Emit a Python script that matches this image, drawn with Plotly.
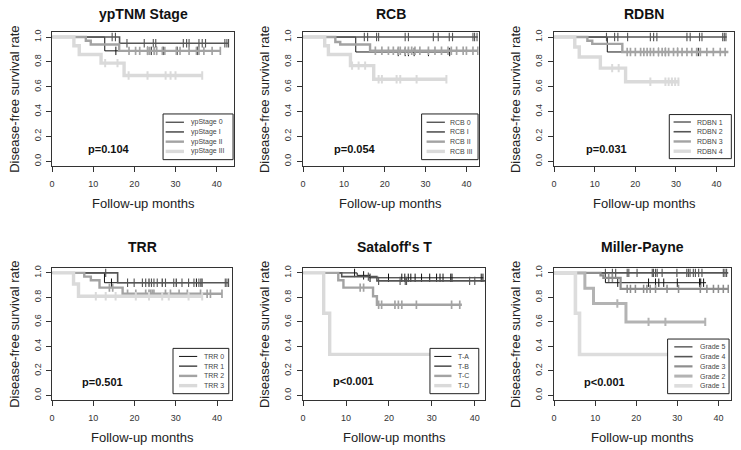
import plotly.graph_objects as go

W, H = 741, 450

# ------------------------------------------------------------------ data
# Panel 1: ypTNM Stage
yp_names = ["ypStage 0", "ypStage I", "ypStage II", "ypStage III"]
yp0_t, yp0_s, yp0_end = [12.8], [0.889], 35.3
yp0_c = [15.5, 23.2, 24.1, 25.4, 27.0, 30.4, 35.3]
yp1_t, yp1_s, yp1_end = [16.4], [0.95], 42.9
yp1_c = [14.6, 15.4, 18.2, 22.4, 24.6, 25.2, 31.9, 32.7, 33.3, 35.7, 36.5, 37.3, 42.0, 42.5, 42.9]
yp2_t, yp2_s, yp2_end = [8.2, 9.4, 16.3], [0.97, 0.94, 0.889], 40.9
yp2_c = [18.7, 20.3, 21.3, 23.2, 23.6, 24.8, 25.4, 26.8, 27.4, 30.2, 31.1, 33.3, 35.1, 35.7, 36.9, 38.9, 40.9]
yp3_t, yp3_s, yp3_end = [5.3, 6.6, 11.9, 17.5], [0.93, 0.86, 0.79, 0.69], 36.5
yp3_c = [12.9, 15.9, 18.6, 23.2, 27.6, 28.8, 30.0, 36.5]

# Panel 2: RCB
rcb_names = ["RCB 0", "RCB I", "RCB II", "RCB III"]
rcb0_t, rcb0_s, rcb0_end = [12.9], [0.88], 35.9
rcb0_c = [23.3, 25.0, 25.8, 27.2, 30.7, 35.9]
rcb1_t, rcb1_s, rcb1_end = [], [], 42.8
rcb1_c = [15.0, 15.8, 18.0, 18.5, 25.0, 25.8, 31.9, 33.1, 35.8, 36.6, 41.6, 42.0, 42.6]
rcb2_t, rcb2_s, rcb2_end = [7.9, 9.1, 16.4], [0.96, 0.94, 0.89], 42.8
rcb2_c = [17.7, 19.3, 20.9, 22.1, 23.3, 23.8, 25.0, 25.8, 26.6, 27.4, 28.6, 30.7, 32.3,
          33.9, 35.5, 36.3, 37.6, 39.2, 40.0, 41.6, 42.8]
rcb3_t, rcb3_s, rcb3_end = [5.3, 6.2, 11.6, 17.3], [0.93, 0.86, 0.77, 0.66], 35.1
rcb3_c = [12.0, 13.6, 15.2, 18.5, 19.3, 22.9, 23.8, 27.8, 35.1]

# Panel 3: RDBN
rd_names = ["RDBN 1", "RDBN 2", "RDBN 3", "RDBN 4"]
rd1_t, rd1_s, rd1_end = [13.1], [0.88], 35.5
rd1_c = [25.7, 27.4, 30.4, 35.5]
rd2_t, rd2_s, rd2_end = [], [], 42.5
rd2_c = [12.9, 14.9, 15.7, 18.1, 23.7, 24.5, 25.3, 32.7, 33.5, 35.8, 36.4, 41.5, 41.9, 42.3]
rd3_t, rd3_s, rd3_end = [8.2, 9.4, 16.8], [0.97, 0.945, 0.88], 42.9
rd3_c = [18.0, 18.8, 20.0, 21.3, 22.1, 22.9, 23.7, 24.5, 25.7, 26.6, 27.4, 28.2, 29.4,
         30.4, 31.5, 32.7, 33.9, 35.1, 36.0, 37.6, 39.2, 40.9, 42.1]
rd4_t, rd4_s, rd4_end = [5.1, 6.2, 11.4, 17.6], [0.92, 0.84, 0.75, 0.64], 30.8
rd4_c = [14.3, 15.9, 23.7, 27.4, 28.2, 29.0, 29.8, 30.6]

# Panel 4: TRR
trr_names = ["TRR 0", "TRR 1", "TRR 2", "TRR 3"]
trr0_t, trr0_s, trr0_end = [12.7], [0.92], 36.4
trr0_c = [14.4, 23.5, 26.7, 30.1, 35.0, 36.1]
trr1_t, trr1_s, trr1_end = [15.9], [0.92], 42.8
trr1_c = [13.0, 18.3, 19.9, 21.9, 22.7, 24.1, 24.7, 25.5, 27.5, 29.5, 31.5, 33.1, 34.4,
          35.6, 36.4, 42.0, 42.4, 42.8]
trr2_t, trr2_s, trr2_end = [7.8, 9.4, 11.5, 17.1], [0.97, 0.94, 0.88, 0.83], 41.2
trr2_c = [13.9, 14.7, 18.3, 20.3, 22.7, 23.5, 23.9, 24.3, 24.7, 27.5, 28.7, 30.8, 32.8,
          36.0, 37.6, 38.4, 41.2]
trr3_t, trr3_s, trr3_end = [5.2, 6.4], [0.91, 0.81], 36.4
trr3_c = [10.6, 13.0, 15.4, 20.3, 23.5, 26.7, 28.3, 33.1, 36.4]

# Panel 5: Sataloff's T
sat_names = ["T-A", "T-B", "T-C", "T-D"]
ta_t, ta_s, ta_end = [12.6, 15.5], [0.98, 0.96], 42.0
ta_c = [12.0, 14.1, 15.6, 19.9, 23.0, 23.7, 24.5, 25.1, 26.1, 27.6, 29.5, 31.1, 31.9,
        32.6, 34.4, 34.7, 41.5, 41.9]
tb_t, tb_s, tb_end = [9.0, 17.2], [0.97, 0.935], 42.5
tb_c = [15.2, 17.6, 22.6, 23.8, 24.1, 38.8, 40.0, 42.5]
tc_t, tc_s, tc_end = [8.2, 9.4, 16.3, 17.2], [0.94, 0.88, 0.81, 0.74], 37.0
tc_c = [13.3, 14.1, 17.6, 18.3, 21.4, 22.2, 23.0, 26.4, 34.6, 36.5]
td_t, td_s, td_end = [4.8, 6.2], [0.67, 0.335], 34.5
td_c = []

# Panel 6: Miller-Payne
mp_names = ["Grade 5", "Grade 4", "Grade 3", "Grade 2", "Grade 1"]
g5_t, g5_s, g5_end = [12.5], [0.92], 37.0
g5_c = [15.5, 23.0, 24.7, 25.5, 26.7, 30.0, 35.4, 35.7, 36.4]
g4_t, g4_s, g4_end = [], [], 42.4
g4_c = [12.5, 14.2, 15.0, 17.8, 18.2, 20.2, 23.9, 24.2, 24.7, 25.1, 26.3, 29.9, 32.3,
        32.7, 33.1, 33.9, 34.4, 35.2, 36.0, 41.2, 41.6, 42.0]
g3_t, g3_s, g3_end = [11.3, 12.0, 16.2], [0.98, 0.96, 0.87], 42.4
g3_c = [13.3, 14.2, 17.8, 18.6, 19.8, 21.8, 22.6, 23.4, 24.7, 27.5, 30.3, 35.6, 37.2,
        38.8, 40.0, 41.2, 42.4]
g2_t, g2_s, g2_end = [7.5, 9.6, 17.5], [0.875, 0.75, 0.6], 36.8
g2_c = [15.4, 23.0, 27.1, 36.8]
g1_t, g1_s, g1_end = [5.2, 6.2], [0.67, 0.333], 35.0
g1_c = []

titles = ["ypTNM Stage", "RCB", "RDBN", "TRR", "Sataloff's T", "Miller-Payne"]
pvals = ["p=0.104", "p=0.054", "p=0.031", "p=0.501", "p<0.001", "p<0.001"]
x_ticks = [0, 10, 20, 30, 40]
y_ticks = [0.0, 0.2, 0.4, 0.6, 0.8, 1.0]
x_label = "Follow-up months"
y_label = "Disease-free survival rate"

panels = [
    (yp_names, [(yp0_t, yp0_s, yp0_end, yp0_c), (yp1_t, yp1_s, yp1_end, yp1_c),
                (yp2_t, yp2_s, yp2_end, yp2_c), (yp3_t, yp3_s, yp3_end, yp3_c)]),
    (rcb_names, [(rcb0_t, rcb0_s, rcb0_end, rcb0_c), (rcb1_t, rcb1_s, rcb1_end, rcb1_c),
                 (rcb2_t, rcb2_s, rcb2_end, rcb2_c), (rcb3_t, rcb3_s, rcb3_end, rcb3_c)]),
    (rd_names, [(rd1_t, rd1_s, rd1_end, rd1_c), (rd2_t, rd2_s, rd2_end, rd2_c),
                (rd3_t, rd3_s, rd3_end, rd3_c), (rd4_t, rd4_s, rd4_end, rd4_c)]),
    (trr_names, [(trr0_t, trr0_s, trr0_end, trr0_c), (trr1_t, trr1_s, trr1_end, trr1_c),
                 (trr2_t, trr2_s, trr2_end, trr2_c), (trr3_t, trr3_s, trr3_end, trr3_c)]),
    (sat_names, [(ta_t, ta_s, ta_end, ta_c), (tb_t, tb_s, tb_end, tb_c),
                 (tc_t, tc_s, tc_end, tc_c), (td_t, td_s, td_end, td_c)]),
    (mp_names, [(g5_t, g5_s, g5_end, g5_c), (g4_t, g4_s, g4_end, g4_c),
                (g3_t, g3_s, g3_end, g3_c), (g2_t, g2_s, g2_end, g2_c),
                (g1_t, g1_s, g1_end, g1_c)]),
]

# ------------------------------------------------------------------ styling / layout
STYLE4 = [("#111111", 1.0), ("#555555", 1.6), ("#a3a3a3", 2.4), ("#dadada", 3.4)]
STYLE5 = [("#111111", 1.0), ("#555555", 1.6), ("#8e8e8e", 2.2), ("#b3b3b3", 3.0), ("#dddddd", 3.6)]

# box left, right, top, bottom (px), px per x-unit
GEO = [
    (49.3, 232.0, 29.3, 164.3, 4.13),
    (301.3, 477.7, 29.3, 164.3, 4.10),
    (553.3, 734.0, 29.3, 164.3, 4.08),
    (49.3, 230.0, 266.8, 399.9, 4.14),
    (301.3, 484.0, 266.8, 399.9, 4.31),
    (553.3, 731.0, 266.8, 399.9, 4.125),
]
# legend box (x0, x1, y0, y1), line x0, x1, text x
LEG = [
    (160.7, 231.0, 111.7, 157.7, 163.3, 181.7, 187.0),
    (420.3, 477.0, 111.7, 157.7, 425.3, 443.7, 447.0),
    (669.0, 731.3, 112.3, 156.7, 673.3, 690.7, 695.0),
    (170.7, 226.7, 347.7, 393.3, 176.7, 195.0, 199.5),
    (428.7, 477.7, 347.7, 393.3, 433.0, 450.3, 454.5),
    (667.3, 729.0, 338.3, 393.3, 674.0, 692.3, 697.5),
]
PPOS = [(106.3, 146.7), (353.7, 146.7), (605.7, 147.0), (100.0, 381.7), (352.0, 381.0), (604.0, 382.0)]
YLAB_X = [10.7, 262.0, 514.0, 10.7, 262.0, 514.0]
FONT = "Liberation Sans, Arial, sans-serif"


def fx(px):
    return px / W


def fy(py):
    return 1 - py / H


def surv_at(t, s, c):
    v = 1.0
    for ti, si in zip(t, s):
        if ti <= c:
            v = si
    return v


fig = go.Figure()
shapes, annots = [], []
layout = dict(width=W, height=H, margin=dict(l=0, r=0, t=0, b=0), showlegend=False,
              paper_bgcolor="white", plot_bgcolor="white")

for k, (names, groups) in enumerate(panels):
    n = k + 1
    xa = "x" if n == 1 else f"x{n}"
    ya = "y" if n == 1 else f"y{n}"
    left, right, top, bottom, ppu = GEO[k]
    styles = STYLE5 if len(groups) == 5 else STYLE4

    for g, (t, s, end, cens) in enumerate(groups):
        col, lw = styles[g]
        xs = [0] + list(t) + [end]
        ys = [1.0] + list(s) + [s[-1] if s else 1.0]
        fig.add_trace(go.Scatter(x=xs, y=ys, mode="lines", line=dict(color=col, width=lw, shape="hv"),
                                 xaxis=xa, yaxis=ya, hoverinfo="skip"))
        if cens:
            fig.add_trace(go.Scatter(x=cens, y=[surv_at(t, s, c) for c in cens], mode="markers",
                                     marker=dict(symbol="line-ns", size=6,
                                                 line=dict(color=col, width=min(max(lw * 0.7, 1.0), 2.0))),
                                     xaxis=xa, yaxis=ya, hoverinfo="skip"))

    axcommon = dict(showline=True, mirror=True, linecolor="#333333", linewidth=1, showgrid=False,
                    zeroline=False, ticks="outside", ticklen=5, tickwidth=1, tickcolor="#333333",
                    tickfont=dict(family=FONT, size=9, color="#333333"))
    layout["xaxis" if n == 1 else f"xaxis{n}"] = dict(
        axcommon, domain=[fx(left), fx(right)], range=[0, (right - left) / ppu],
        tickvals=x_ticks, anchor=ya, ticklabelstandoff=4)
    layout["yaxis" if n == 1 else f"yaxis{n}"] = dict(
        axcommon, domain=[fy(bottom), fy(top)], range=[-0.04, 1.04], tickvals=y_ticks,
        tickformat=".1f", tickangle=-90, anchor=xa, ticklabelstandoff=2)

    cx = (left + right) / 2
    cy = (top + bottom) / 2
    ttl_y = 10.7 if k < 3 else 245.7
    xl_y = 202.3 if k < 3 else 437.3
    annots.append(dict(x=fx(cx), y=fy(ttl_y), xref="paper", yref="paper", text=titles[k], showarrow=False,
                       xanchor="center", yanchor="middle",
                       font=dict(family=FONT, size=14, color="#111111", weight="bold")))
    annots.append(dict(x=fx(cx), y=fy(xl_y), xref="paper", yref="paper", text=x_label, showarrow=False,
                       xanchor="center", yanchor="middle", font=dict(family=FONT, size=13, color="#222222")))
    annots.append(dict(x=fx(YLAB_X[k]), y=fy(cy), xref="paper", yref="paper", text=y_label, showarrow=False,
                       textangle=-90, xanchor="center", yanchor="middle",
                       font=dict(family=FONT, size=13, color="#222222")))
    px_, py_ = PPOS[k]
    annots.append(dict(x=fx(px_), y=fy(py_), xref="paper", yref="paper", text=pvals[k], showarrow=False,
                       xanchor="center", yanchor="middle",
                       font=dict(family=FONT, size=11, color="#111111", weight="bold")))

    # legend
    bx0, bx1, by0, by1, lx0, lx1, tx = LEG[k]
    shapes.append(dict(type="rect", xref="paper", yref="paper", x0=fx(bx0), x1=fx(bx1), y0=fy(by1),
                       y1=fy(by0), line=dict(color="#222222", width=1), fillcolor="white", layer="above"))
    ng = len(names)
    step = 9.8
    mid = (by0 + by1) / 2
    for g, nm in enumerate(names):
        ey = mid + (g - (ng - 1) / 2) * step
        col, lw = styles[g]
        shapes.append(dict(type="line", xref="paper", yref="paper", x0=fx(lx0), x1=fx(lx1), y0=fy(ey),
                           y1=fy(ey), line=dict(color=col, width=lw), layer="above"))
        annots.append(dict(x=fx(tx), y=fy(ey), xref="paper", yref="paper", text=nm, showarrow=False,
                           xanchor="left", yanchor="middle", font=dict(family=FONT, size=7, color="#444444")))

layout["shapes"] = shapes
layout["annotations"] = annots
fig.update_layout(**layout)
fig.write_html("out.html", config={"displayModeBar": False},
               post_script="document.body.style.margin='0';document.body.style.overflow='hidden';")
